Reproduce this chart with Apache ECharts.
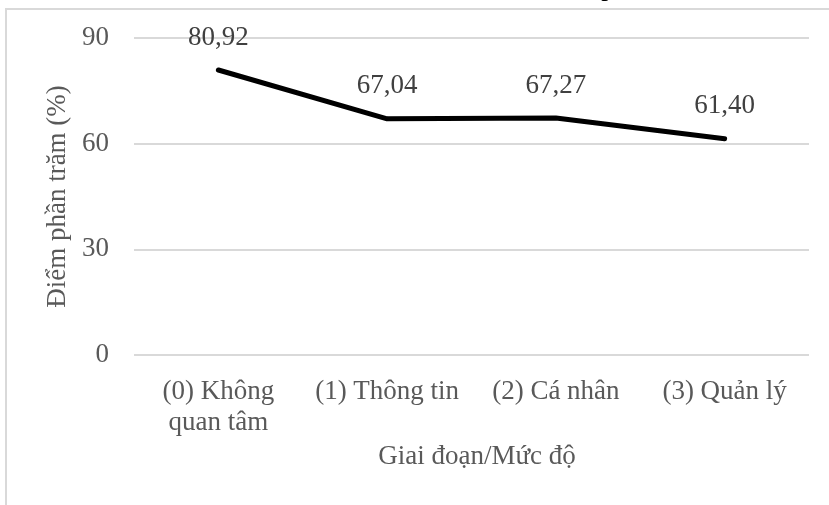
<!DOCTYPE html>
<html>
<head>
<meta charset="utf-8">
<script src="https://cdn.jsdelivr.net/npm/echarts@6/dist/echarts.min.js"></script>
<style>
html,body{margin:0;padding:0;background:#fff;}
#c{width:829px;height:505px;}
</style>
</head>
<body>
<div id="c"></div>
<script>
const categories = ['(0) Không\nquan tâm', '(1) Thông tin', '(2) Cá nhân', '(3) Quản lý'];
const values = [80.92, 67.04, 67.27, 61.40];
const yTicks = { min: 0, max: 90, interval: 30 };
const xTitle = 'Giai đoạn/Mức độ';
const yTitle = 'Điểm phần trăm (%)';

const FONT = '"Liberation Serif", "Times New Roman", serif';
const chart = echarts.init(document.getElementById('c'), null, { renderer: 'canvas' });
chart.setOption({
  animation: false,
  backgroundColor: '#ffffff',
  graphic: [
    { type: 'rect', shape: { x: 6, y: 9, width: 900, height: 600 }, style: { fill: 'none', stroke: '#d9d9d9', lineWidth: 2 }, silent: true },
    { type: 'text', x: 608, y: -12, style: { text: 'p', font: '27px ' + FONT, fill: '#000', align: 'center', verticalAlign: 'middle' }, silent: true }
  ],
  grid: { left: 134, right: 20, top: 38, bottom: 150, containLabel: false },
  xAxis: {
    type: 'category',
    data: categories,
    boundaryGap: true,
    axisLine: { show: false },
    axisTick: { show: false },
    axisLabel: { color: '#595959', fontFamily: FONT, fontSize: 27, margin: 21, lineHeight: 31.5, interval: 0 },
    name: xTitle,
    nameLocation: 'middle',
    nameGap: 78,
    nameTextStyle: { color: '#595959', fontFamily: FONT, fontSize: 27, padding: [0, 0, 0, 11] }
  },
  yAxis: {
    type: 'value',
    min: yTicks.min, max: yTicks.max, interval: yTicks.interval,
    axisLine: { show: false },
    axisTick: { show: false },
    axisLabel: { color: '#595959', fontFamily: FONT, fontSize: 27, margin: 25 },
    splitLine: { lineStyle: { color: '#d9d9d9', width: 2 } },
    name: yTitle,
    nameLocation: 'middle',
    nameGap: 59,
    nameTextStyle: { color: '#595959', fontFamily: FONT, fontSize: 27 }
  },
  series: [{
    type: 'line',
    data: values,
    symbol: 'circle',
    symbolSize: 2,
    showSymbol: true,
    itemStyle: { color: '#000000' },
    lineStyle: { color: '#000000', width: 5, cap: 'round', join: 'round' },
    label: {
      show: true,
      position: 'top',
      distance: 18,
      color: '#404040',
      fontFamily: FONT,
      fontSize: 27,
      formatter: p => p.value.toFixed(2).replace('.', ',')
    }
  }]
});
</script>
</body>
</html>
